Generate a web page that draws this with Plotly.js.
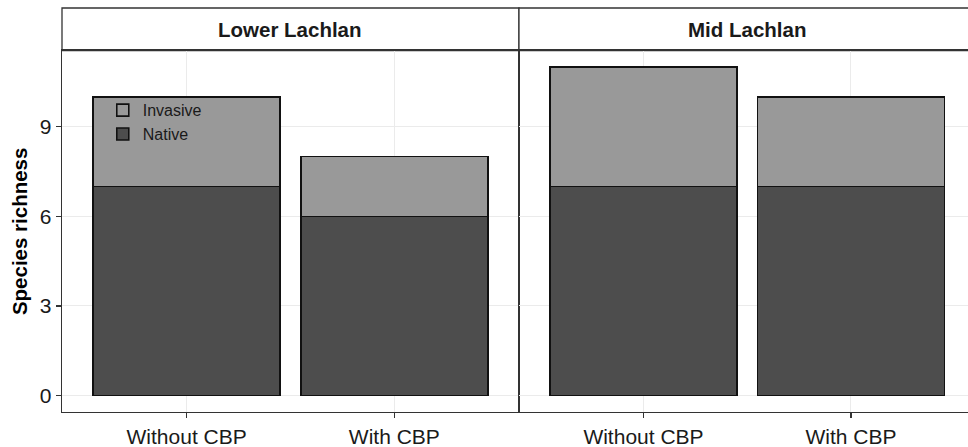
<!DOCTYPE html>
<html>
<head>
<meta charset="utf-8">
<script src="https://cdn.plot.ly/plotly-3.0.1.min.js"></script>
<style>html,body{margin:0;padding:0;background:#fff;}#chart{width:968px;height:447px;}</style>
</head>
<body>
<div id="chart"></div>
<script>
const facets = ['Lower Lachlan', 'Mid Lachlan'];
const treatments = ['Without CBP', 'With CBP'];
const nativeLower = [7, 6];
const invasiveLower = [3, 2];
const nativeMid = [7, 7];
const invasiveMid = [4, 3];
const yTicks = [0, 3, 6, 9];

const NATIVE_COL = '#4d4d4d';
const INV_COL = '#999999';
const LINE = {color: '#111', width: 1.6};
const FONT = 'Liberation Sans, Arial, sans-serif';

function bar(name, y, color, xa, ya, show) {
  return {
    type: 'bar', name: name, x: treatments, y: y,
    xaxis: xa, yaxis: ya, width: 0.9,
    marker: {color: color, line: LINE},
    legendgroup: name, showlegend: show, hoverinfo: 'y'
  };
}

const data = [
  bar('Native', nativeLower, NATIVE_COL, 'x', 'y', true),
  bar('Invasive', invasiveLower, INV_COL, 'x', 'y', true),
  bar('Native', nativeMid, NATIVE_COL, 'x2', 'y2', false),
  bar('Invasive', invasiveMid, INV_COL, 'x2', 'y2', false)
];

const axCol = '#333333';
const gridCol = '#ebebeb';
const leftEnd = 0.5044, rightStart = 0.5044, panelTop = 0.8944;

const xCommon = {
  type: 'category', ticks: 'outside', ticklen: 5, tickcolor: axCol, tickwidth: 1.2,
  showline: true, linecolor: axCol, linewidth: 1.3, mirror: true,
  showgrid: true, gridcolor: gridCol, gridwidth: 1,
  tickfont: {family: FONT, size: 21, color: '#1a1a1a'}, zeroline: false
};

const layout = {
  width: 968, height: 447,
  margin: {l: 62, r: 0, t: 8, b: 35},
  paper_bgcolor: '#ffffff', plot_bgcolor: '#ffffff',
  barmode: 'stack',
  font: {family: FONT},
  xaxis: Object.assign({}, xCommon, {domain: [0, leftEnd], range: [-0.6, 1.6], anchor: 'y'}),
  xaxis2: Object.assign({}, xCommon, {domain: [rightStart, 1], range: [-0.6, 1.564], anchor: 'y2'}),
  yaxis: {
    domain: [0, panelTop], range: [-0.55, 11.55], tickvals: yTicks,
    ticks: 'outside', ticklen: 5, tickcolor: axCol, tickwidth: 1.2,
    showline: true, linecolor: axCol, linewidth: 1.3, mirror: true,
    showgrid: true, gridcolor: gridCol, zeroline: false,
    tickfont: {family: FONT, size: 21, color: '#1a1a1a'},
    title: {text: 'Species richness', font: {family: FONT, size: 20.5, color: '#000', weight: 'bold'}, standoff: 6},
    anchor: 'x'
  },
  yaxis2: {
    domain: [0, panelTop], matches: 'y', range: [-0.55, 11.55], tickvals: yTicks,
    showticklabels: false, ticks: '',
    showline: true, linecolor: axCol, linewidth: 1.3, mirror: false,
    showgrid: true, gridcolor: gridCol, zeroline: false, anchor: 'x2'
  },
  legend: {
    x: 0.045, xanchor: 'left', y: 0.789, yanchor: 'top',
    bgcolor: 'rgba(0,0,0,0)', traceorder: 'reversed',
    font: {family: FONT, size: 16, color: '#1a1a1a'}, tracegroupgap: 0
  },
  shapes: [
    {type: 'rect', xref: 'paper', yref: 'paper', x0: 0, x1: leftEnd, y0: panelTop, y1: 1,
     line: {color: axCol, width: 1.3}, fillcolor: '#ffffff', layer: 'below'},
    {type: 'rect', xref: 'paper', yref: 'paper', x0: rightStart, x1: 1.02, y0: panelTop, y1: 1,
     line: {color: axCol, width: 1.3}, fillcolor: '#ffffff', layer: 'below'}
  ],
  annotations: [
    {xref: 'x', yref: 'paper', x: 0.5, y: (panelTop + 1) / 2, text: facets[0], showarrow: false,
     font: {family: FONT, size: 20.5, color: '#1a1a1a', weight: 'bold'}, yanchor: 'middle'},
    {xref: 'x2', yref: 'paper', x: 0.5, y: (panelTop + 1) / 2, text: facets[1], showarrow: false,
     font: {family: FONT, size: 20.5, color: '#1a1a1a', weight: 'bold'}, yanchor: 'middle'}
  ]
};

Plotly.newPlot('chart', data, layout, {displayModeBar: false, staticPlot: true});
</script>
</body>
</html>
